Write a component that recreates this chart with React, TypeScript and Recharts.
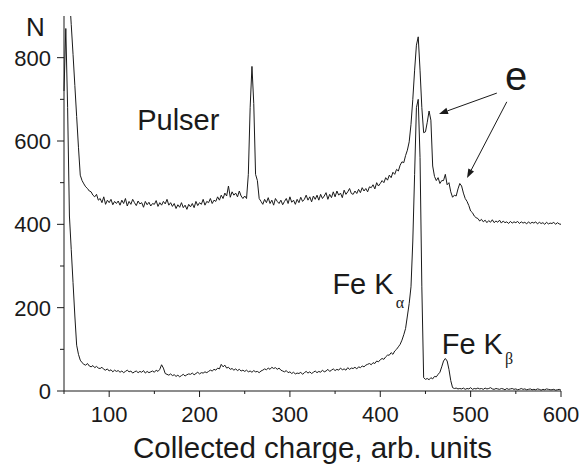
import React from 'react';
import { LineChart, Line, XAxis, YAxis, ReferenceLine, ReferenceDot } from 'recharts';

// channel grid of the spectrum (arb. units of collected charge)
const chargeStart = 50;
const chargeStep = 2;

// counts with the pulser switched on (upper curve)
const pulserCounts = [
  1000, 1000, 1000, 950, 880, 808, 733, 659, 585, 518,
  505, 497, 490, 486, 480, 478, 470, 466, 472, 458,
  462, 452, 466, 448, 458, 452, 460, 447, 455, 450,
  456, 446, 458, 450, 462, 444, 455, 448, 460, 452,
  445, 456, 449, 452, 441, 455, 447, 453, 444, 450,
  448, 457, 443, 452, 446, 455, 449, 460, 446, 452,
  443, 450, 438, 447, 441, 452, 440, 446, 436, 448,
  442, 450, 440, 455, 445, 452, 448, 460, 446, 455,
  452, 462, 450, 458, 455, 466, 458, 470, 462, 475,
  468, 492, 465, 478, 470, 475, 466, 480, 468, 462,
  468, 462, 520, 680, 779, 690, 520, 505, 462, 455,
  448, 460, 452, 464, 450, 458, 446, 462, 455, 450,
  458, 447, 455, 462, 450, 466, 453, 458, 448, 460,
  452, 465, 455, 460, 470, 458, 466, 454, 468, 460,
  470, 458, 472, 462, 468, 476, 460, 472, 464, 478,
  466, 480, 470, 475, 464, 482, 472, 478, 486, 474,
  472, 480, 474, 484, 476, 488, 480, 486, 478, 490,
  488, 495, 485, 500, 492, 498, 505, 500, 512, 506,
  518, 512, 525, 520, 532, 528, 542, 550, 548, 565,
  578, 598, 640, 700, 770, 830, 850, 770, 680, 620,
  622, 645, 672, 650, 540, 515, 505, 512, 498, 505,
  505, 520, 495, 500, 478, 465, 470, 468, 485, 498,
  492, 475, 462, 455, 445, 432, 428, 420, 416, 414,
  408, 412, 406, 410, 404, 409, 405, 411, 404, 408,
  405, 410, 403, 408, 404, 406, 402, 407, 403, 406,
  404, 407, 402, 406, 403, 405, 401, 406, 402, 405,
  403, 406, 401, 405, 402, 404, 400, 405, 401, 403,
  402, 405, 400, 404, 401, 400,
];

// counts of the Fe-55 source alone (lower curve)
const sourceCounts = [
  720, 870, 680, 420, 340, 260, 180, 110, 88, 74,
  68, 64, 62, 66, 60, 58, 61, 56, 59, 55,
  54, 57, 52, 50, 53, 48, 51, 46, 50, 47,
  49, 45, 48, 44, 47, 50, 46, 48, 43, 46,
  48, 44, 47, 45, 49, 43, 47, 44, 46, 48,
  45, 50, 47, 52, 63, 55, 42, 40, 38, 41,
  37, 39, 35, 38, 34, 37, 40, 36, 39, 41,
  40, 43, 39, 42, 45, 41, 44, 43, 46, 44,
  47, 50, 48, 52, 50, 55, 53, 64, 58, 62,
  55, 57, 52, 54, 50, 53, 49, 52, 48, 50,
  47, 50, 46, 48, 45, 49, 46, 47, 44, 48,
  50, 53, 51, 55, 52, 57, 54, 56, 52, 55,
  50, 48, 46, 49, 44, 46, 42, 45, 41, 43,
  42, 45, 40, 44, 47, 43, 46, 42, 45, 48,
  44, 47, 45, 50, 46, 48, 52, 47, 50, 53,
  49, 52, 50, 55, 51, 53, 50, 56, 52, 55,
  54, 57, 53, 58, 56, 60, 58, 62, 64, 66,
  63, 68, 66, 72, 70, 75, 78, 76, 82, 86,
  86, 92, 88, 96, 100, 106, 112, 122, 135, 150,
  180, 210, 250, 360, 520, 680, 700, 560, 250, 32,
  28, 30, 27, 32, 29, 35, 34, 40, 45, 58,
  72, 78, 72, 52, 25, 8, 6, 7, 5, 6,
  5, 7, 4, 6, 5, 8, 4, 6, 5, 7,
  5, 6, 4, 7, 5, 6, 8, 5, 4, 6,
  5, 4, 6, 5, 3, 6, 4, 5, 6, 4,
  5, 3, 4, 6, 4, 5, 3, 4, 5, 3,
  4, 3, 5, 4, 2, 4, 3, 5, 4, 3,
  3, 4, 2, 3, 4, 2,
];

const xTicks = [50, 100, 150, 200, 250, 300, 350, 400, 450, 500, 550, 600];
const yTicks = [0, 100, 200, 300, 400, 500, 600, 700, 800];

const chartData = pulserCounts.map((p, i) => ({
  charge: chargeStart + i * chargeStep,
  pulser: p,
  source: sourceCounts[i],
}));

const FONT = '"Liberation Sans", Arial, Helvetica, sans-serif';
const INK = '#1a1a1a';

const XTick = (props: any) => {
  const { x, y, payload } = props;
  const major = payload.value % 100 === 0;
  return (
    <g>
      <line x1={x} x2={x} y1={y} y2={y + (major ? 6 : 3)} stroke={INK} strokeWidth={1} />
      {major && (
        <text x={x} y={y + 31} textAnchor="middle" fontFamily={FONT} fontSize={22} fill={INK}>
          {payload.value}
        </text>
      )}
    </g>
  );
};

const YTick = (props: any) => {
  const { x, y, payload } = props;
  const major = payload.value % 200 === 0;
  return (
    <g>
      <line x1={x - (major ? 7 : 4)} x2={x} y1={y} y2={y} stroke={INK} strokeWidth={1} />
      {major && (
        <text x={x - 13} y={y + 8} textAnchor="end" fontFamily={FONT} fontSize={22} fill={INK}>
          {payload.value}
        </text>
      )}
    </g>
  );
};

// line with a filled head at its second point
const Arrow = (props: any) => {
  const { x1, y1, x2, y2 } = props;
  const dx = x2 - x1;
  const dy = y2 - y1;
  const len = Math.sqrt(dx * dx + dy * dy) || 1;
  const ux = dx / len;
  const uy = dy / len;
  const hl = 9;
  const hw = 3.2;
  const bx = x2 - ux * hl;
  const by = y2 - uy * hl;
  const pts = `${x2},${y2} ${bx - uy * hw},${by + ux * hw} ${bx + uy * hw},${by - ux * hw}`;
  return (
    <g>
      <line x1={x1} y1={y1} x2={bx} y2={by} stroke={INK} strokeWidth={1} />
      <polygon points={pts} fill={INK} />
    </g>
  );
};

const PlainLabel = (text: string, size: number) => (props: any) => (
  <text x={props.cx} y={props.cy} fontFamily={FONT} fontSize={size} fill={INK}>
    {text}
  </text>
);

const SubLabel = (text: string, sub: string, dy: number) => (props: any) => (
  <text x={props.cx} y={props.cy} fontFamily={FONT} fontSize={29} fill={INK}>
    {text}
    <tspan dx={2} dy={dy} fontFamily='"Liberation Serif", "Times New Roman", serif' fontSize={16}>
      {sub}
    </tspan>
  </text>
);

export default function App() {
  return (
    <div style={{ position: 'absolute', left: 0, top: 0, background: '#fff' }}>
      <LineChart
        width={584}
        height={468}
        data={chartData}
        margin={{ top: 16, right: 23, bottom: 0, left: 0 }}
      >
        <XAxis
          dataKey="charge"
          type="number"
          domain={[50, 600]}
          ticks={xTicks}
          interval={0}
          height={77}
          tickSize={0}
          tickMargin={0}
          tickLine={false}
          tick={<XTick />}
          axisLine={{ stroke: INK, strokeWidth: 1 }}
          label={{
            content: (p: any) => (
              <text
                x={p.viewBox.x + p.viewBox.width / 2}
                y={p.viewBox.y + 67}
                textAnchor="middle"
                fontFamily={FONT}
                fontSize={29.5}
                fill={INK}
              >
                Collected charge, arb. units
              </text>
            ),
          }}
        />
        <YAxis
          type="number"
          domain={[0, 900]}
          allowDataOverflow
          ticks={yTicks}
          interval={0}
          width={64}
          tickSize={0}
          tickMargin={0}
          tickLine={false}
          tick={<YTick />}
          axisLine={{ stroke: INK, strokeWidth: 1 }}
          label={{
            content: () => (
              <text x={26} y={36} fontFamily={FONT} fontSize={26} fill={INK}>
                N
              </text>
            ),
          }}
        />
        <Line
          type="linear"
          dataKey="pulser"
          stroke={INK}
          strokeWidth={1}
          dot={false}
          isAnimationActive={false}
        />
        <Line
          type="linear"
          dataKey="source"
          stroke={INK}
          strokeWidth={1}
          dot={false}
          isAnimationActive={false}
        />
        <ReferenceLine segment={[{ x: 529, y: 715 }, { x: 465, y: 665 }]} shape={Arrow} />
        <ReferenceLine segment={[{ x: 540, y: 694 }, { x: 496, y: 511 }]} shape={Arrow} />
        <ReferenceDot x={131} y={627} r={0} shape={PlainLabel('Pulser', 29)} />
        <ReferenceDot x={538} y={722} r={0} shape={PlainLabel('e', 40)} />
        <ReferenceDot x={347} y={234} r={0} shape={SubLabel('Fe K', 'α', 14)} />
        <ReferenceDot x={468} y={88} r={0} shape={SubLabel('Fe K', 'β', 10)} />
      </LineChart>
    </div>
  );
}
